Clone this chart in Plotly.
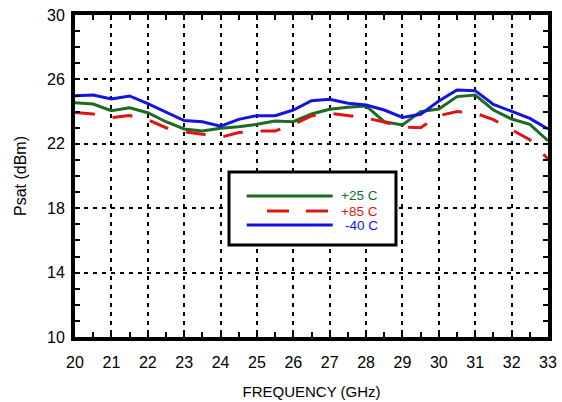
import plotly.graph_objects as go

freq = [20.0, 20.5, 21.0, 21.5, 22.0, 22.5, 23.0, 23.5, 24.0, 24.5, 25.0, 25.5, 26.0,
        26.5, 27.0, 27.5, 28.0, 28.5, 29.0, 29.5, 30.0, 30.5, 31.0, 31.5, 32.0, 32.5, 33.0]

p_25 = [24.55, 24.47, 24.06, 24.24, 23.93, 23.37, 22.92, 22.80, 22.96, 23.06, 23.21, 23.42, 23.37,
        23.85, 24.14, 24.27, 24.35, 23.37, 23.17, 24.00, 24.16, 24.93, 25.03, 24.10, 23.54, 23.21, 22.19]

p_85 = [23.95, 23.85, 23.62, 23.75, 23.50, 23.00, 22.75, 22.60, 22.40, 22.70, 22.80, 22.80, 23.20,
        23.73, 23.90, 23.75, 23.60, 23.35, 23.05, 23.00, 23.75, 24.00, 23.90, 23.50, 22.90, 22.25, 21.05]

p_m40 = [24.99, 25.03, 24.78, 24.97, 24.50, 23.95, 23.44, 23.37, 23.10, 23.52, 23.75, 23.75, 24.10,
         24.68, 24.76, 24.52, 24.41, 24.10, 23.64, 23.83, 24.66, 25.34, 25.30, 24.45, 23.99, 23.58, 22.92]

series_names = ["+25 C", "+85 C", "-40 C"]
colors = ["#1b6b22", "#e01414", "#1414e0"]
dashes = ["solid", "20px,18px", "solid"]

x_ticks = list(range(20, 34))
y_ticks = [10, 14, 18, 22, 26, 30]

FONT = "Liberation Sans, Arial, Helvetica, sans-serif"

fig = go.Figure()
for name, ys, c, d in zip(series_names, [p_25, p_85, p_m40], colors, dashes):
    fig.add_trace(go.Scatter(x=freq, y=ys, mode="lines", name=name,
                             line=dict(color=c, width=3, dash=d), showlegend=False))

axis_common = dict(
    showline=True, linecolor="black", linewidth=4, mirror="allticks",
    showgrid=True, gridcolor="black", gridwidth=2, griddash="4px,5px",
    ticks="inside", ticklen=5, tickwidth=2, tickcolor="black",
    zeroline=False, automargin=False,
    tickfont=dict(family=FONT, size=16, color="black"),
)

fig.update_xaxes(range=[20, 33], tickvals=x_ticks, ticktext=[str(v) for v in x_ticks],
                 ticklabelstandoff=8,
                 minor=dict(dtick=0.5, tick0=20, ticks="inside", ticklen=5, tickwidth=2,
                            tickcolor="black", showgrid=False),
                 title=dict(text="FREQUENCY (GHz)", font=dict(family=FONT, size=15, color="black"),
                            standoff=17),
                 **axis_common)
fig.update_yaxes(range=[10, 30], tickvals=y_ticks, ticktext=[str(v) for v in y_ticks],
                 ticklabelstandoff=3,
                 minor=dict(dtick=1, tick0=10, ticks="inside", ticklen=5, tickwidth=2,
                            tickcolor="black", showgrid=False),
                 title=dict(text="Psat (dBm)", font=dict(family=FONT, size=16, color="black"),
                            standoff=17),
                 **axis_common)

# manual legend box
fig.add_shape(type="rect", xref="paper", yref="paper", x0=0.3256, x1=0.6786, y0=0.2857, y1=0.5124,
              line=dict(color="black", width=3), fillcolor="white", layer="above")
legend_y = [0.4379, 0.3913, 0.3478]
legend_x0 = [0.363, 0.406, 0.363]
for name, c, d, ly, lx0 in zip(series_names, colors, dashes, legend_y, legend_x0):
    fig.add_shape(type="line", xref="paper", yref="paper", x0=lx0, x1=0.5448, y0=ly, y1=ly,
                  line=dict(color=c, width=3, dash=("22px,17px" if d != "solid" else "solid")),
                  layer="above")
    fig.add_annotation(xref="paper", yref="paper", x=0.6448, y=ly, text=name, showarrow=False,
                       xanchor="right", yanchor="middle", height=13,
                       font=dict(family=FONT, size=13.5, color=c))

fig.update_layout(
    width=562, height=402,
    margin=dict(l=75, r=14, t=15, b=65),
    plot_bgcolor="white", paper_bgcolor="white",
    font=dict(family=FONT, size=15, color="black"),
)

fig.write_html("out.html", config={"displayModeBar": False},
               post_script="document.body.style.margin='0px';document.body.style.overflow='hidden';")
